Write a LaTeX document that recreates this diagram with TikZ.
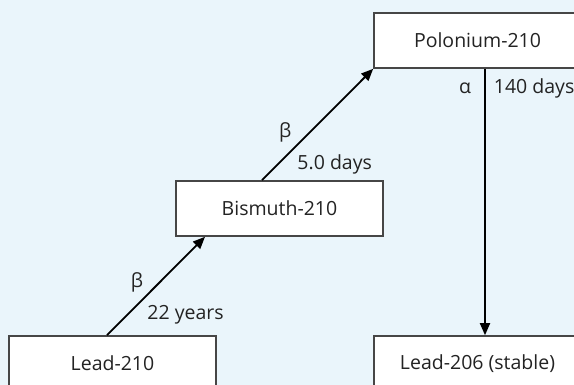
\documentclass[tikz,border=0pt]{standalone}
\usepackage{fontspec}
\setmainfont{Open Sans}
\usetikzlibrary{arrows.meta,calc}
\definecolor{bgblue}{RGB}{234,245,251}
\definecolor{boxline}{RGB}{70,70,70}
\definecolor{txt}{RGB}{35,35,35}

\begin{document}
\begin{tikzpicture}[x=1pt,y=-1pt,
  font=\fontsize{19.5}{22}\selectfont,text=txt,
  isotope/.style={draw=boxline,line width=1.6pt,fill=white,minimum width=207pt,minimum height=55pt,inner sep=0pt},
  decay/.style={line width=1.8pt,-{Triangle[length=12pt,width=10pt]}},
  lbl/.style={inner sep=0pt}]

\fill[bgblue] (0,0) rectangle (574,385);
\useasboundingbox (0,0) rectangle (574,385);

\begin{scope}
\clip (0,0) rectangle (574,385);
\node[isotope] (pb210) at (112.5,363.5) {Lead-210};
\node[isotope] (bi210) at (279.5,208.5) {Bismuth-210};
\node[isotope] (po210) at (477.5,40.5) {Polonium-210};
\node[isotope] (pb206) at (477.5,363.5) {Lead-206 (stable)};
\end{scope}

\draw[decay] ([xshift=-5.5pt]pb210.north) -- ([xshift=-74.5pt]bi210.south)
  node[lbl,pos=0.54,anchor=east,xshift=-16pt] (beta1) {β}
  node[lbl,pos=0.21,anchor=west,xshift=19pt] (t1) {22 years};
\draw[decay] ([xshift=-17.5pt]bi210.north) -- (po210.south west)
  node[lbl,pos=0.425,anchor=east,xshift=-17pt] (beta2) {β}
  node[lbl,pos=0.14,anchor=west,xshift=19pt] (t2) {5.0 days};
\draw[decay] ([xshift=7.5pt]po210.south) -- ([xshift=7.5pt]pb206.north)
  node[lbl,pos=0.075,anchor=east,xshift=-13pt] (alpha) {α}
  node[lbl,pos=0.075,anchor=west,xshift=8pt] (t3) {140 days};

\end{tikzpicture}
\end{document}
